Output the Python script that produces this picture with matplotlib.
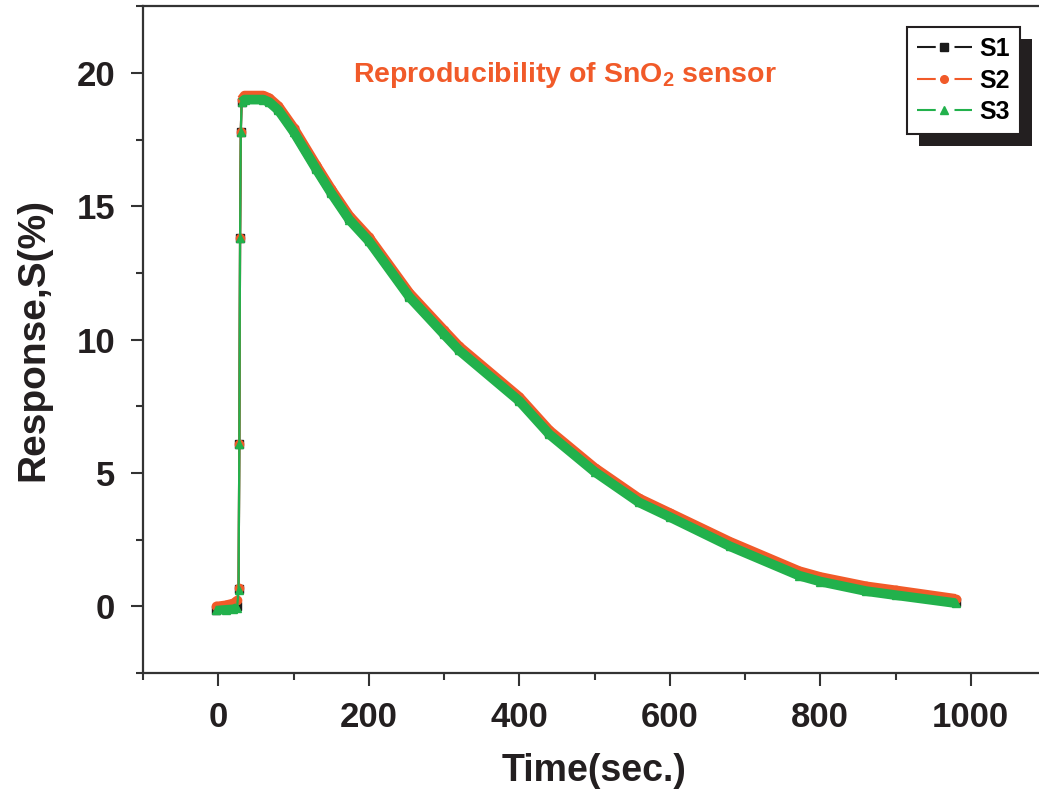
import matplotlib
matplotlib.use("Agg")
import matplotlib.pyplot as plt
from matplotlib.lines import Line2D
from matplotlib.patches import Rectangle
from matplotlib.ticker import MultipleLocator

# ---------------- data ----------------
t_s1 = [-3, 10, 20, 25, 27, 28, 29, 30, 31, 35, 60, 68, 80, 100, 130, 150, 174, 200,
        254, 300, 320, 400, 440, 500, 559, 600, 680, 772, 800, 861, 900, 980]
s1 = [-0.12, -0.08, -0.05, 0.0, 0.65, 6.1, 13.8, 17.8, 18.9, 19.05, 19.05, 18.95, 18.65,
      17.85, 16.45, 15.55, 14.55, 13.75, 11.65, 10.25, 9.65, 7.75, 6.5, 5.1, 3.95,
      3.4, 2.3, 1.2, 0.98, 0.62, 0.46, 0.17]

t_s2 = t_s1
s2 = [0.0, 0.05, 0.12, 0.22, 0.7, 6.1, 13.8, 17.8, 19.0, 19.15, 19.15, 19.05, 18.75,
      17.95, 16.55, 15.65, 14.65, 13.85, 11.75, 10.35, 9.75, 7.85, 6.6, 5.2, 4.05,
      3.5, 2.42, 1.32, 1.1, 0.75, 0.6, 0.28]

t_s3 = t_s1
s3 = [-0.15, -0.12, -0.1, -0.05, 0.6, 6.1, 13.8, 17.8, 18.9, 19.0, 19.0, 18.9, 18.6,
      17.8, 16.4, 15.5, 14.5, 13.7, 11.6, 10.2, 9.6, 7.7, 6.45, 5.05, 3.9,
      3.35, 2.25, 1.15, 0.93, 0.57, 0.42, 0.12]

series_names = ["S1", "S2", "S3"]
series_colors = ["#1a1a1a", "#f15a29", "#22b14c"]
series_markers = ["s", "o", "^"]
title_text = "Reproducibility of SnO$_\\mathregular{2}$ sensor"
x_label = "Time(sec.)"
y_label = "Response,S(%)"

# ---------------- figure ----------------
plt.rcParams["font.family"] = ["Liberation Sans", "DejaVu Sans"]
plt.rcParams["mathtext.fontset"] = "custom"
plt.rcParams["mathtext.rm"] = "Liberation Sans:bold"
plt.rcParams["mathtext.it"] = "Liberation Sans:bold"
plt.rcParams["mathtext.bf"] = "Liberation Sans:bold"

W, H = 1039, 793
fig = plt.figure(figsize=(W / 100, H / 100), dpi=100)
ax_left, ax_right_px = 143, 143 + 903
ax_top, ax_bottom = 6.25, 673
ax = fig.add_axes([ax_left / W, (H - ax_bottom) / H,
                   (ax_right_px - ax_left) / W, (ax_bottom - ax_top) / H])

data = [(t_s1, s1), (t_s2, s2), (t_s3, s3)]
rise_end = 4  # index of the last baseline point before the steep rise
for (t, s), c, m in zip(data, series_colors, series_markers):
    # thin connecting line with markers (visible on the steep rise)
    ax.plot(t, s, color=c, lw=1.6, marker=m, ms=6, mec=c, mfc=c, zorder=2)
    # thick band made by the dense markers of the original
    ax.plot(t[:rise_end], s[:rise_end], color=c, lw=6.5, solid_capstyle="butt", zorder=2)
    ax.plot(t[rise_end + 4:], s[rise_end + 4:], color=c, lw=7.0,
            solid_capstyle="butt", solid_joinstyle="round", zorder=2)

ax.set_xlim(-100, 1100)
ax.set_ylim(-2.5, 22.5)
ax.xaxis.set_major_locator(MultipleLocator(200))
ax.xaxis.set_minor_locator(MultipleLocator(100))
ax.yaxis.set_major_locator(MultipleLocator(5))
ax.yaxis.set_minor_locator(MultipleLocator(2.5))

spine_col = "#333333"
for side in ["left", "bottom", "top", "right"]:
    ax.spines[side].set_linewidth(1.6)
    ax.spines[side].set_color(spine_col)

ax.tick_params(axis="both", which="major", direction="out", length=9, width=1.5,
               color=spine_col, labelsize=25, pad=11, labelcolor="#231f20")
ax.tick_params(axis="both", which="minor", direction="out", length=5, width=1.5,
               color=spine_col)
ax.tick_params(top=False, right=False, which="both")
for lab in ax.get_xticklabels() + ax.get_yticklabels():
    lab.set_fontweight("bold")

ax.set_xlabel(x_label, fontsize=27, fontweight="bold", color="#231f20", labelpad=14)
ax.set_ylabel(y_label, fontsize=28, fontweight="bold", color="#231f20", labelpad=18)

ax.text((565 - ax_left) / (ax_right_px - ax_left), 1 - (75 - ax_top) / (ax_bottom - ax_top),
        title_text, transform=ax.transAxes, ha="center", va="center",
        fontsize=20.5, fontweight="bold", color="#f15a29")

# legend with gapped line handles and a solid black drop shadow
handles = [Line2D([], [], color=c, lw=1.5, ls=(0, (9, 9)), marker=m, ms=5.5,
                  mec=c, mfc=c)
           for c, m in zip(series_colors, series_markers)]
leg = fig.legend(handles, series_names, loc="upper right",
                 bbox_to_anchor=(1020 / W, 1 - 27 / H),
                 frameon=True, fancybox=False, edgecolor="#231f20",
                 facecolor="white", framealpha=1.0,
                 prop={"weight": "bold", "size": 18},
                 handlelength=2.2, handletextpad=0.3, labelspacing=0.3,
                 borderpad=0.4, borderaxespad=0)
leg.get_frame().set_linewidth(1.5)
leg.set_zorder(5)

fig.canvas.draw()
bb = leg.get_window_extent()
shadow = Rectangle((bb.x0 + 12, bb.y0 - 12), bb.width, bb.height,
                   transform=None, facecolor="#231f20", edgecolor="none", zorder=4)
fig.add_artist(shadow)

fig.savefig("out.png", dpi=100)
